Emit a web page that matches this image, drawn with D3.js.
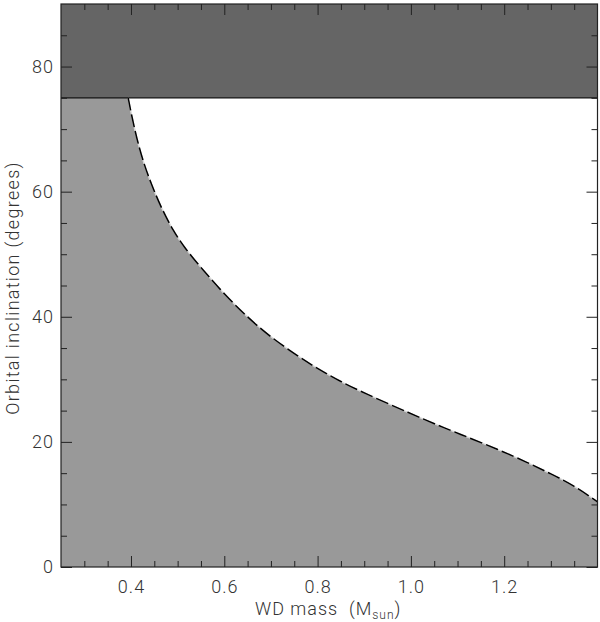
<!DOCTYPE html>
<html>
<head>
<meta charset="utf-8">
<script src="https://cdn.jsdelivr.net/npm/d3@7"></script>
<style>
  body { margin: 0; background: #fff; }
  svg text { font-family: Roboto, "DejaVu Sans", sans-serif; font-weight: 300; fill: #333; letter-spacing: 1px; }
</style>
</head>
<body>
<div id="container"></div>
<script>
/**
 * CONSTANTS AND GLOBALS
 * */
const width = 600,
  height = 622,
  margin = { top: 4, bottom: 55, left: 61, right: 2 };

// boundary curve: WD mass (Msun) vs orbital inclination (deg)
const wdMass = [0.394, 0.401, 0.412, 0.426, 0.444, 0.465, 0.49, 0.515, 0.554, 0.60, 0.65, 0.70, 0.76, 0.80, 0.85, 0.90, 1.00, 1.06, 1.10, 1.19, 1.25, 1.30, 1.35, 1.40];
const inclination = [75, 72.3, 68.6, 64.8, 61.1, 57.4, 53.8, 51.0, 47.5, 43.6, 39.9, 36.7, 33.6, 31.7, 29.6, 27.8, 24.5, 22.6, 21.4, 18.7, 16.7, 14.9, 13.0, 10.4];

// excluded band at the top (eclipsing limit)
const bandLow = 75, bandHigh = 90;

const xMajor = [0.4, 0.6, 0.8, 1.0, 1.2];
const xMinor = [0.3, 0.35, 0.45, 0.5, 0.55, 0.65, 0.7, 0.75, 0.85, 0.9, 0.95, 1.05, 1.1, 1.15, 1.25, 1.3, 1.35];
const yMajor = [0, 20, 40, 60, 80];
const yMinor = [5, 10, 15, 25, 30, 35, 45, 50, 55, 65, 70, 75, 85];

const svg = d3.select("#container")
  .append("svg")
  .attr("width", width)
  .attr("height", height);

const x = d3.scaleLinear()
  .domain([0.25, 1.4])
  .range([margin.left, width - margin.right - 0.5]);

const y = d3.scaleLinear()
  .domain([0, 90])
  .range([height - margin.bottom, margin.top]);

const pts = wdMass.map((m, i) => [m, inclination[i]]);

const line = d3.line()
  .x(d => x(d[0]))
  .y(d => y(d[1]))
  .curve(d3.curveBasis);

// allowed region: under the curve, plus the flat part left of it
const xmin = x.domain()[0], xmax = x.domain()[1];
svg.append("path")
  .attr("fill", "#999999")
  .attr("d", line(pts) +
    `L${x(xmax)},${y(0)}L${x(xmin)},${y(0)}L${x(xmin)},${y(bandLow)}Z`);

// dark band
svg.append("rect")
  .attr("x", x(xmin))
  .attr("y", y(bandHigh))
  .attr("width", x(xmax) - x(xmin))
  .attr("height", y(bandLow) - y(bandHigh))
  .attr("fill", "#656565");

svg.append("line")
  .attr("x1", x(xmin)).attr("x2", x(xmax))
  .attr("y1", y(bandLow)).attr("y2", y(bandLow))
  .attr("stroke", "#111")
  .attr("stroke-width", 1.2);

// dashed curve over the boundary
svg.append("path")
  .datum(pts)
  .attr("fill", "none")
  .attr("stroke", "#d8d8d8")
  .attr("stroke-width", 1.4)
  .attr("d", line);

svg.append("path")
  .datum(pts)
  .attr("fill", "none")
  .attr("stroke", "#000")
  .attr("stroke-width", 1.5)
  .attr("stroke-dasharray", "13,4")
  .attr("d", line);

// axes, ticks pointing inward
const yBottom = height - margin.bottom, yTop = margin.top;
const xLeft = x.range()[0], xRight = x.range()[1];

function styleAxis(g) {
  g.select(".domain").remove();
  g.selectAll("line").attr("stroke", "#222");
  g.selectAll("text").attr("font-size", 18).attr("fill", "#333");
}

svg.append("g").attr("transform", `translate(0,${yBottom})`)
  .call(d3.axisBottom(x).tickValues(xMajor).tickSize(-11).tickPadding(13).tickFormat(d3.format(".1f")))
  .call(styleAxis);
svg.append("g").attr("transform", `translate(0,${yBottom})`)
  .call(d3.axisBottom(x).tickValues(xMinor).tickSize(-6).tickFormat(""))
  .call(styleAxis);
svg.append("g").attr("transform", `translate(0,${yTop})`)
  .call(d3.axisTop(x).tickValues(xMajor).tickSize(-11).tickFormat(""))
  .call(styleAxis);
svg.append("g").attr("transform", `translate(0,${yTop})`)
  .call(d3.axisTop(x).tickValues(xMinor).tickSize(-6).tickFormat(""))
  .call(styleAxis);

svg.append("g").attr("transform", `translate(${xLeft},0)`)
  .call(d3.axisLeft(y).tickValues(yMajor).tickSize(-11).tickPadding(7).tickFormat(d3.format("d")))
  .call(styleAxis);
svg.append("g").attr("transform", `translate(${xLeft},0)`)
  .call(d3.axisLeft(y).tickValues(yMinor).tickSize(-6).tickFormat(""))
  .call(styleAxis);
svg.append("g").attr("transform", `translate(${xRight},0)`)
  .call(d3.axisRight(y).tickValues(yMajor).tickSize(-11).tickFormat(""))
  .call(styleAxis);
svg.append("g").attr("transform", `translate(${xRight},0)`)
  .call(d3.axisRight(y).tickValues(yMinor).tickSize(-6).tickFormat(""))
  .call(styleAxis);

// frame
svg.append("rect")
  .attr("x", xLeft).attr("y", yTop)
  .attr("width", xRight - xLeft).attr("height", yBottom - yTop)
  .attr("fill", "none")
  .attr("stroke", "#222")
  .attr("stroke-width", 1.2);

// axis titles
const xt = svg.append("text")
  .attr("x", 255).attr("y", 615)
  .attr("font-size", 18)
  .style("white-space", "pre");
xt.append("tspan").text("WD mass  (M");
xt.append("tspan").attr("font-size", 12).attr("dy", 4).text("sun");
xt.append("tspan").attr("dy", -4).text(")");

svg.append("text")
  .attr("transform", `translate(19,288) rotate(-90)`)
  .attr("text-anchor", "middle")
  .attr("font-size", 18)
  .style("letter-spacing", "1.3px")
  .text("Orbital inclination (degrees)");
</script>
</body>
</html>
